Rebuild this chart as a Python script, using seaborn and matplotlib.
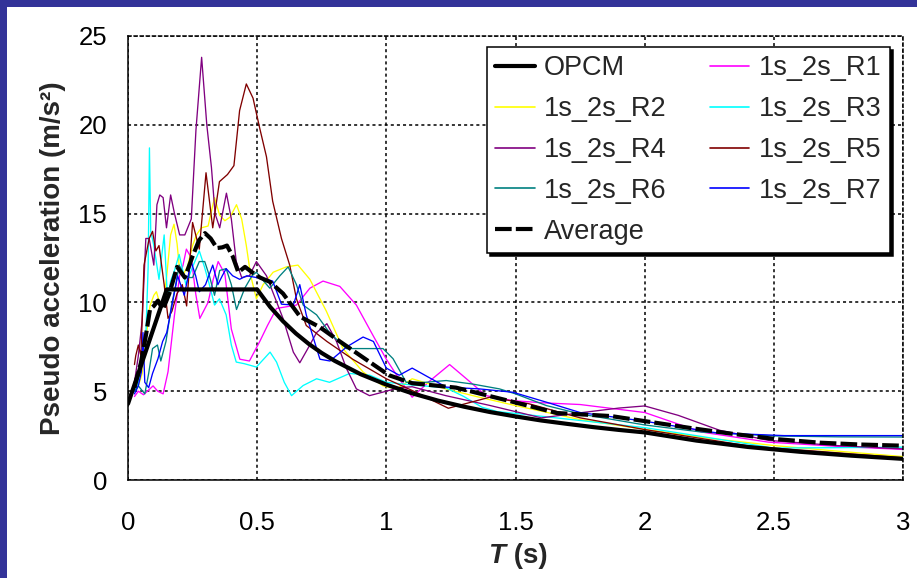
import matplotlib
matplotlib.use("Agg")
import matplotlib.pyplot as plt
from matplotlib.patches import Rectangle
from matplotlib.lines import Line2D
import seaborn as sns

# ---- design spectrum (OPCM, soil B) ----
opcm_T = [0.0, 0.15, 0.5, 0.55, 0.6, 0.65, 0.7, 0.75, 0.8, 0.9, 1.0, 1.1, 1.2, 1.3, 1.4,
          1.5, 1.6, 1.7, 1.8, 1.9, 2.0, 2.2, 2.4, 2.6, 2.8, 3.0]
opcm_Sa = [4.29, 10.73, 10.73, 9.75, 8.94, 8.25, 7.66, 7.15, 6.71, 5.96, 5.37, 4.88, 4.47,
           4.13, 3.83, 3.58, 3.35, 3.16, 2.98, 2.82, 2.68, 2.22, 1.86, 1.59, 1.37, 1.19]

# ---- record spectra ----
r1_T = [0.025, 0.04, 0.06, 0.075, 0.097, 0.115, 0.136, 0.155, 0.18, 0.2, 0.213, 0.226, 0.245,
        0.262, 0.278, 0.31, 0.33, 0.349, 0.375, 0.4, 0.433, 0.47, 0.51, 0.54, 0.575, 0.652,
        0.704, 0.755, 0.82, 0.884, 0.948, 1.0, 1.04, 1.10, 1.17, 1.245, 1.31, 1.386, 1.49,
        1.6, 1.75, 2.0, 2.22, 2.48, 2.74, 3.0]
r1_Sa = [4.7, 5.0, 4.8, 5.0, 5.3, 5.0, 4.85, 6.1, 9.3, 11.5, 12.1, 13.0, 12.5, 10.5, 9.1, 10.0,
         11.3, 12.3, 11.6, 8.5, 6.8, 6.7, 7.8, 8.7, 9.66, 9.85, 10.8, 11.2, 10.9, 9.85, 8.15,
         6.8, 5.9, 4.66, 5.6, 6.5, 5.7, 4.75, 4.47, 4.35, 4.25, 3.8, 2.7, 2.13, 1.9, 1.72]

r2_T = [0.025, 0.04, 0.055, 0.07, 0.085, 0.1, 0.11, 0.12, 0.135, 0.15, 0.165, 0.178, 0.19, 0.2,
        0.215, 0.23, 0.25, 0.265, 0.284, 0.31, 0.335, 0.355, 0.375, 0.395, 0.42, 0.44, 0.458,
        0.475, 0.497, 0.523, 0.562, 0.613, 0.658, 0.704, 0.768, 0.832, 0.91, 0.987, 1.04, 1.10,
        1.23, 1.36, 1.5, 1.75, 2.0, 2.25, 2.5, 2.75, 3.0]
r2_Sa = [5.0, 5.3, 6.0, 8.0, 9.8, 10.4, 10.6, 10.1, 9.8, 11.5, 13.8, 14.4, 13.3, 11.8, 11.6,
         12.0, 13.2, 13.8, 14.2, 14.3, 15.9, 14.9, 14.6, 14.8, 15.5, 14.7, 13.2, 11.5, 10.2,
         11.0, 11.7, 12.0, 12.1, 11.3, 9.5, 7.4, 6.08, 5.3, 5.13, 5.7, 5.13, 4.66, 4.19, 3.4,
         2.85, 2.35, 1.94, 1.62, 1.32]

r3_T = [0.025, 0.04, 0.055, 0.07, 0.078, 0.083, 0.088, 0.1, 0.12, 0.14, 0.153, 0.165, 0.18,
        0.198, 0.224, 0.25, 0.276, 0.296, 0.315, 0.335, 0.354, 0.38, 0.4, 0.419, 0.45, 0.497,
        0.55, 0.575, 0.605, 0.633, 0.678, 0.73, 0.78, 0.858, 0.936, 1.0, 1.10, 1.23, 1.30,
        1.37, 1.43, 1.5, 1.75, 2.0, 2.22, 2.5, 2.74, 3.0]
r3_Sa = [5.0, 5.5, 6.8, 8.5, 12.0, 18.7, 14.0, 13.2, 11.3, 13.8, 10.2, 11.2, 11.8, 12.7, 11.0,
         12.0, 12.9, 12.0, 11.0, 9.85, 10.2, 9.3, 7.6, 6.64, 6.55, 6.36, 7.2, 6.64, 5.5, 4.75,
         5.32, 5.7, 5.5, 6.0, 5.9, 5.5, 5.35, 5.2, 4.7, 4.1, 3.85, 3.75, 3.35, 2.95, 2.45,
         1.8, 1.82, 1.85]

r4_T = [0.025, 0.04, 0.055, 0.069, 0.082, 0.1, 0.112, 0.123, 0.136, 0.149, 0.165, 0.18, 0.2,
        0.22, 0.245, 0.263, 0.285, 0.305, 0.323, 0.337, 0.355, 0.381, 0.40, 0.419, 0.44, 0.47,
        0.497, 0.536, 0.6, 0.64, 0.665, 0.7, 0.73, 0.77, 0.807, 0.845, 0.884, 0.935, 1.0,
        1.05, 1.1, 1.23, 1.4, 1.6, 1.76, 1.9, 2.0, 2.13, 2.29, 2.48, 2.74, 3.0]
r4_Sa = [5.5, 7.0, 9.0, 13.6, 13.6, 12.1, 15.5, 16.05, 15.9, 14.2, 16.05, 15.0, 13.8, 13.8,
         14.7, 19.7, 23.8, 20.0, 17.6, 15.0, 14.2, 16.15, 14.7, 12.3, 11.4, 11.5, 12.3, 11.5,
         9.1, 7.2, 6.6, 7.5, 8.3, 8.8, 7.8, 6.3, 5.13, 4.75, 5.0, 5.2, 5.25, 4.75, 4.2, 3.5,
         3.8, 4.05, 4.17, 3.64, 2.8, 2.23, 1.94, 1.75]

r5_T = [0.025, 0.03, 0.04, 0.05, 0.062, 0.082, 0.095, 0.108, 0.12, 0.14, 0.155, 0.17, 0.19,
        0.21, 0.227, 0.25, 0.276, 0.302, 0.328, 0.354, 0.385, 0.41, 0.432, 0.458, 0.484, 0.51,
        0.536, 0.56, 0.594, 0.626, 0.652, 0.69, 0.77, 0.87, 1.0, 1.10, 1.24, 1.40, 1.55, 1.75,
        2.0, 2.41, 3.0]
r5_Sa = [6.5, 7.0, 7.6, 7.0, 12.1, 13.6, 14.0, 12.9, 13.2, 11.0, 9.1, 9.5, 10.5, 11.0, 9.8,
         14.5, 13.0, 17.3, 14.2, 16.8, 17.2, 17.7, 20.8, 22.3, 21.5, 19.8, 18.2, 15.7, 13.6,
         12.1, 10.2, 8.7, 7.8, 6.8, 5.7, 5.04, 4.04, 4.66, 4.3, 3.5, 2.84, 1.9, 1.25]

r6_T = [0.025, 0.04, 0.065, 0.08, 0.095, 0.114, 0.127, 0.147, 0.168, 0.185, 0.198, 0.22, 0.239,
        0.25, 0.276, 0.297, 0.315, 0.335, 0.355, 0.38, 0.40, 0.42, 0.452, 0.48, 0.497, 0.525,
        0.549, 0.588, 0.62, 0.652, 0.678, 0.73, 0.78, 0.845, 0.91, 0.987, 1.026, 1.077, 1.15,
        1.232, 1.335, 1.438, 1.5, 1.62, 1.75, 2.0, 2.22, 2.5, 2.75, 3.0]
r6_Sa = [5.0, 5.3, 4.85, 6.0, 7.4, 7.6, 6.7, 7.8, 9.8, 11.0, 12.1, 11.5, 11.4, 11.4, 12.3, 12.3,
         11.5, 10.4, 11.8, 11.9, 11.0, 9.6, 10.8, 11.5, 11.7, 11.2, 10.8, 11.5, 12.0, 11.0, 9.85,
         9.3, 8.3, 7.4, 7.4, 7.4, 6.83, 5.5, 5.5, 5.6, 5.4, 5.13, 4.85, 4.19, 3.72, 3.1, 2.7,
         2.48, 2.43, 2.42]

r7_T = [0.025, 0.04, 0.052, 0.058, 0.065, 0.08, 0.095, 0.116, 0.134, 0.15, 0.168, 0.192, 0.218,
        0.244, 0.262, 0.276, 0.3, 0.328, 0.348, 0.365, 0.38, 0.405, 0.432, 0.46, 0.497, 0.536,
        0.56, 0.594, 0.64, 0.665, 0.69, 0.743, 0.782, 0.847, 0.91, 0.95, 1.0, 1.05, 1.10,
        1.232, 1.36, 1.49, 1.62, 1.75, 2.0, 2.28, 2.54, 3.0]
r7_Sa = [4.85, 5.3, 6.1, 8.3, 5.5, 5.2, 6.0, 6.83, 7.8, 8.3, 9.66, 11.5, 10.4, 12.3, 11.5, 10.6,
         11.0, 12.1, 11.0, 11.5, 11.9, 11.5, 11.3, 11.5, 11.4, 11.3, 11.2, 9.9, 9.85, 11.0, 9.3,
         6.8, 6.7, 7.5, 8.05, 7.8, 6.3, 5.9, 6.3, 5.23, 5.13, 4.94, 4.38, 3.8, 3.31, 2.65, 2.5,
         2.5]

# ---- mean of the records ----
avg_T = [0.025, 0.05, 0.07, 0.085, 0.1, 0.116, 0.135, 0.16, 0.19, 0.22, 0.25, 0.275, 0.298,
         0.32, 0.344, 0.365, 0.383, 0.405, 0.427, 0.453, 0.48, 0.511, 0.55, 0.6, 0.666, 0.743,
         0.82, 0.925, 1.01, 1.1, 1.27, 1.49, 1.66, 1.87, 2.03, 2.19, 2.34, 2.51, 2.68, 2.83, 3.0]
avg_Sa = [5.2, 6.6, 8.2, 9.6, 9.8, 10.1, 9.6, 10.5, 12.0, 11.4, 12.6, 13.5, 13.9, 13.6, 13.06,
          13.1, 13.2, 12.6, 11.7, 12.0, 11.7, 11.4, 11.15, 10.5, 9.2, 8.6, 7.8, 6.75, 5.9, 5.45,
          5.2, 4.4, 3.77, 3.6, 3.25, 2.9, 2.6, 2.3, 2.1, 2.0, 1.93]

records = [
    ("1s_2s_R1", r1_T, r1_Sa, "#FF00FF"),
    ("1s_2s_R2", r2_T, r2_Sa, "#FFFF00"),
    ("1s_2s_R3", r3_T, r3_Sa, "#00FFFF"),
    ("1s_2s_R4", r4_T, r4_Sa, "#800080"),
    ("1s_2s_R5", r5_T, r5_Sa, "#800000"),
    ("1s_2s_R6", r6_T, r6_Sa, "#008080"),
    ("1s_2s_R7", r7_T, r7_Sa, "#0000FF"),
]

x_ticks = [0, 0.5, 1, 1.5, 2, 2.5, 3]
x_ticklabels = ["0", "0.5", "1", "1.5", "2", "2.5", "3"]
y_ticks = [0, 5, 10, 15, 20, 25]

sns.set_theme(style="white")
plt.rcParams["font.family"] = ["Liberation Sans", "DejaVu Sans"]

W, H = 917, 578
fig = plt.figure(figsize=(W / 100, H / 100), dpi=100, facecolor="white",
                 edgecolor="white", linewidth=0)
ax = fig.add_axes([128 / W, 1 - 480 / H, (903 - 128) / W, (480 - 36) / H])
ax.set_facecolor("white")

# blue frame strips on the left and top edges only
fig.patches.append(Rectangle((0, 0), 7 / W, 1, transform=fig.transFigure,
                             facecolor="#333399", edgecolor="none", zorder=0))
fig.patches.append(Rectangle((0, 1 - 7 / H), 1, 7 / H, transform=fig.transFigure,
                             facecolor="#333399", edgecolor="none", zorder=0))

handles = {}
for name, T, Sa, col in records:
    sns.lineplot(x=T, y=Sa, sort=False, estimator=None, ax=ax, color=col,
                 linewidth=0.95, legend=False)
    handles[name] = Line2D([], [], color=col, linewidth=1.2)

sns.lineplot(x=opcm_T, y=opcm_Sa, sort=False, estimator=None, ax=ax, color="black",
             linewidth=3.0, legend=False)
handles["OPCM"] = Line2D([], [], color="black", linewidth=3.0)

avg_dash = (0, (4.0, 1.0))
sns.lineplot(x=avg_T, y=avg_Sa, sort=False, estimator=None, ax=ax, color="black",
             linewidth=3.0, legend=False)
ax.lines[-1].set_linestyle(avg_dash)
handles["Average"] = Line2D([], [], color="black", linewidth=3.0, linestyle=avg_dash)

ax.set_xlim(0, 3)
ax.set_ylim(0, 25)
ax.set_xticks(x_ticks)
ax.set_xticklabels(x_ticklabels)
ax.set_yticks(y_ticks)

ax.grid(True, color="black", linestyle=(0, (2, 2)), linewidth=1.1)
ax.set_axisbelow(True)
for side in ("left", "bottom"):
    ax.spines[side].set_color("black")
    ax.spines[side].set_linewidth(1.1)
for side in ("top", "right"):
    ax.spines[side].set_color("black")
    ax.spines[side].set_linewidth(1.1)
    ax.spines[side].set_linestyle((0, (2, 2)))

ax.tick_params(axis="both", which="major", direction="out", length=6, width=1.1,
               color="black", labelsize=18.5, labelcolor="black")
ax.tick_params(axis="x", pad=16)
ax.tick_params(axis="y", pad=9)

ax.set_ylabel("Pseudo acceleration (m/s²)", fontsize=20, fontweight="bold", labelpad=9)
ax.set_xlabel("")
fig.text(505 / W, 1 - 556 / H, "T", fontsize=20, fontweight="bold", style="italic",
         ha="right", va="center")
fig.text(506 / W, 1 - 556 / H, " (s)", fontsize=20, fontweight="bold",
         ha="left", va="center")

order = ["OPCM", "1s_2s_R2", "1s_2s_R4", "1s_2s_R6", "Average",
         "1s_2s_R1", "1s_2s_R3", "1s_2s_R5", "1s_2s_R7"]
leg = ax.legend([handles[k] for k in order], order,
                ncol=2, loc="upper right", bbox_to_anchor=(0.983, 0.975),
                borderaxespad=0.0,
                fontsize=19.5, frameon=True, fancybox=False,
                shadow={"color": "black", "alpha": 1.0},
                edgecolor="black", framealpha=1.0, borderpad=0.3, labelspacing=0.55,
                handlelength=1.45, handletextpad=0.35, columnspacing=1.6)
leg.get_frame().set_linewidth(1.1)

fig.savefig("out.png", dpi=100, facecolor="white", edgecolor="white")
